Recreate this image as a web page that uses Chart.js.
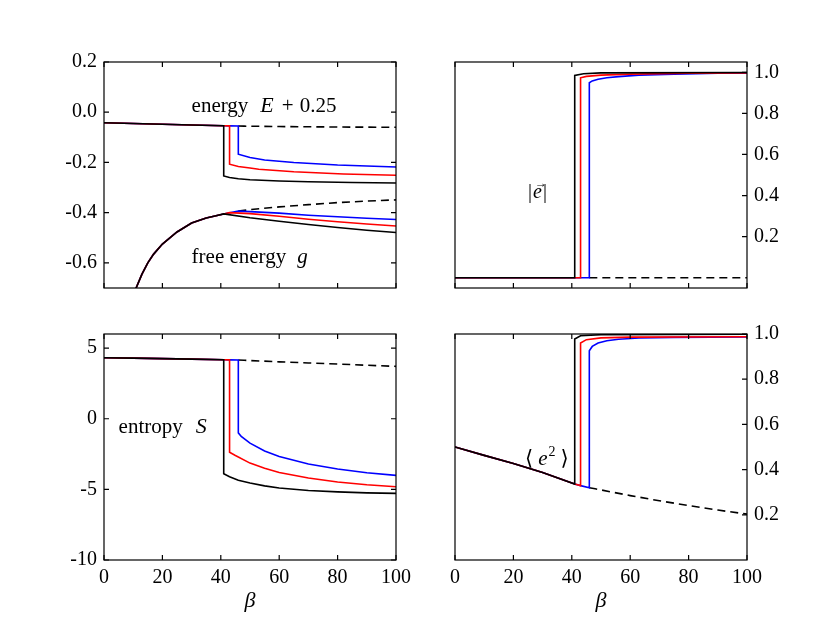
<!DOCTYPE html>
<html>
<head>
<meta charset="utf-8">
<script src="https://cdn.jsdelivr.net/npm/chart.js@4.4.0/dist/chart.umd.min.js"></script>
<style>
body{margin:0;background:#fff;}
#wrap{position:relative;width:830px;height:623px;background:#fff;}
#wrap canvas{position:absolute;left:0;top:0;}
</style>
</head>
<body>
<div id="wrap">
<canvas id="c1" width="830" height="623"></canvas>
<canvas id="c2" width="830" height="623"></canvas>
<canvas id="c3" width="830" height="623"></canvas>
<canvas id="c4" width="830" height="623"></canvas>
</div>
<script>
// beta where each coloured curve jumps to the ordered branch
var jumpBlack = 41, jumpRed = 43, jumpBlue = 46;
var betaTicks = [0, 20, 40, 60, 80, 100];

// --- energy E+0.25 ---
var enDisB = [0, 10, 20, 30, 41, 43, 46, 48, 60, 70, 80, 90, 100];
var enDis  = [-0.042, -0.045, -0.048, -0.051, -0.054, -0.0545, -0.055, -0.0555, -0.057, -0.058, -0.059, -0.0595, -0.060];
var enBlackB = [41, 43, 46, 50, 60, 70, 85, 100];
var enBlack  = [-0.254, -0.260, -0.265, -0.269, -0.274, -0.277, -0.280, -0.282];
var enRedB = [43, 46, 50, 53, 65, 82, 100];
var enRed  = [-0.207, -0.216, -0.222, -0.227, -0.237, -0.246, -0.251];
var enBlueB = [46, 50, 55, 65, 80, 100];
var enBlue  = [-0.167, -0.180, -0.190, -0.200, -0.210, -0.218];

// --- free energy g ---
var gDisB = [9, 11, 13, 15, 17, 20, 25, 30, 35, 38, 41, 43, 46, 50, 60, 70, 80, 90, 100];
var gDis  = [-0.79, -0.70, -0.645, -0.60, -0.565, -0.525, -0.477, -0.441, -0.421, -0.413, -0.405, -0.400, -0.394, -0.388, -0.377, -0.368, -0.360, -0.354, -0.349];
var gBlackB = [41, 50, 60, 70, 80, 90, 100];
var gBlack  = [-0.405, -0.420, -0.434, -0.447, -0.459, -0.470, -0.479];
var gRedB = [43, 50, 60, 70, 80, 90, 100];
var gRed  = [-0.400, -0.404, -0.414, -0.426, -0.436, -0.445, -0.453];
var gBlueB = [46, 50, 60, 70, 80, 90, 100];
var gBlue  = [-0.394, -0.396, -0.402, -0.410, -0.416, -0.422, -0.427];

// --- |e| ---
var magDisB = [0, 41, 43, 46, 100];
var magDis  = [0, 0, 0, 0, 0];
var magBlackB = [41, 44, 50, 100];
var magBlack  = [0.985, 0.993, 0.997, 0.999];
var magRedB = [43, 45, 50, 60, 80, 100];
var magRed  = [0.973, 0.980, 0.986, 0.991, 0.995, 0.997];
var magBlueB = [46, 47, 49, 52, 56, 63, 75, 90, 100];
var magBlue  = [0.949, 0.958, 0.966, 0.973, 0.979, 0.986, 0.991, 0.995, 0.996];

// --- entropy S ---
var sDisB = [0, 10, 20, 30, 41, 43, 46, 48, 60, 70, 80, 90, 100];
var sDis  = [4.32, 4.29, 4.26, 4.22, 4.18, 4.17, 4.16, 4.14, 4.03, 3.95, 3.87, 3.79, 3.71];
var sBlackB = [41, 43, 46, 50, 55, 60, 70, 80, 90, 100];
var sBlack  = [-3.89, -4.10, -4.35, -4.55, -4.75, -4.90, -5.08, -5.18, -5.25, -5.28];
var sRedB = [43, 45, 50, 55, 60, 70, 80, 90, 100];
var sRed  = [-2.37, -2.60, -3.14, -3.50, -3.80, -4.20, -4.48, -4.67, -4.81];
var sBlueB = [46, 47, 50, 55, 60, 70, 80, 90, 100];
var sBlue  = [-1.00, -1.25, -1.73, -2.28, -2.67, -3.21, -3.56, -3.82, -4.01];

// --- <e^2> ---
var e2DisB = [0, 10, 20, 30, 35, 41, 43, 46, 48, 60, 70, 80, 90, 100];
var e2Dis  = [0.500, 0.463, 0.427, 0.387, 0.364, 0.336, 0.329, 0.320, 0.315, 0.285, 0.262, 0.241, 0.221, 0.203];
var e2BlackB = [41, 43, 50, 100];
var e2Black  = [0.978, 0.992, 0.997, 0.999];
var e2RedB = [43, 45, 50, 60, 100];
var e2Red  = [0.960, 0.975, 0.983, 0.986, 0.988];
var e2BlueB = [46, 47, 49, 52, 56, 63, 75, 100];
var e2Blue  = [0.926, 0.945, 0.960, 0.970, 0.977, 0.982, 0.985, 0.987];

var FONT = '"Liberation Serif", "DejaVu Serif", serif';
var W = 830, H = 623;

function pts(xs, ys, from, to){
    var out = [];
    for (var i = 0; i < xs.length; i++){
        if (xs[i] >= from && xs[i] <= to) out.push({x: xs[i], y: ys[i]});
    }
    return out;
}
// disordered part up to the jump, then the ordered branch
function curve(disB, dis, jump, ordB, ord){
    return pts(disB, dis, -1, jump).concat(pts(ordB, ord, -1, 1000));
}
function line(data, color, dashed){
    return {data: data, borderColor: color, borderWidth: 1.6, pointRadius: 0,
            fill: false, tension: 0, borderDash: dashed ? [8, 5] : []};
}

var framePlugin = {
    id: 'frame',
    afterDatasetsDraw: function(chart, args, o){
        var ctx = chart.ctx, a = chart.chartArea;
        var xs = chart.scales.x, ys = chart.scales.y;
        ctx.save();
        ctx.strokeStyle = '#000';
        ctx.lineWidth = 1.2;
        ctx.strokeRect(a.left, a.top, a.right - a.left, a.bottom - a.top);
        ctx.beginPath();
        betaTicks.forEach(function(v){
            var p = xs.getPixelForValue(v);
            ctx.moveTo(p, a.bottom); ctx.lineTo(p, a.bottom - 5);
            ctx.moveTo(p, a.top); ctx.lineTo(p, a.top + 5);
        });
        ys.ticks.forEach(function(t){
            var p = ys.getPixelForValue(t.value);
            if (o.ySides.indexOf('left') >= 0){ ctx.moveTo(a.left, p); ctx.lineTo(a.left + 5, p); }
            if (o.ySides.indexOf('right') >= 0){ ctx.moveTo(a.right, p); ctx.lineTo(a.right - 5, p); }
        });
        ctx.stroke();
        ctx.restore();
    }
};

var notesPlugin = {
    id: 'notes',
    afterDatasetsDraw: function(chart, args, o){
        var ctx = chart.ctx;
        ctx.save();
        ctx.fillStyle = '#000';
        ctx.textBaseline = 'alphabetic';
        (o.items || []).forEach(function(n){
            var x = chart.scales.x.getPixelForValue(n.x);
            var y = chart.scales.y.getPixelForValue(n.y);
            var lastX = x;
            n.runs.forEach(function(r){
                ctx.font = (r.it ? 'italic ' : '') + (r.size || 21) + 'px ' + FONT;
                if (r.over){
                    // accent drawn over the previous run, no advance
                    ctx.fillText(r.t, lastX + (r.dx || 0), y + (r.dy || 0));
                    return;
                }
                x += r.pre || 0;
                lastX = x;
                ctx.fillText(r.t, x, y + (r.dy || 0));
                x += ctx.measureText(r.t).width;
            });
        });
        ctx.restore();
    }
};

function panel(id, p){
    var yW = 60, xH = p.showX ? 55 : 20;
    var padL = p.side === 'left' ? p.area.left - yW : p.area.left;
    var padR = p.side === 'right' ? W - p.area.right - yW : W - p.area.right;
    var cfg = {
        type: 'line',
        data: {datasets: p.datasets},
        options: {
            responsive: false, animation: false, events: [],
            layout: {autoPadding: false,
                     padding: {left: padL, right: padR, top: p.area.top, bottom: H - p.area.bottom - xH}},
            plugins: {legend: {display: false}, tooltip: {enabled: false},
                      frame: {ySides: p.ySides}, notes: {items: p.notes}},
            scales: {
                x: {type: 'linear', position: 'bottom', min: 0, max: 100,
                    grid: {display: false, drawTicks: false}, border: {display: false},
                    afterBuildTicks: function(s){ s.ticks = betaTicks.map(function(v){ return {value: v}; }); },
                    afterFit: function(s){ s.height = xH; },
                    ticks: {display: p.showX, autoSkip: false, maxRotation: 0, padding: 6, color: '#000',
                            font: {family: FONT, size: 20}},
                    title: {display: p.showX, text: 'β', color: '#000', padding: {top: 0, bottom: 1},
                            font: {family: FONT, size: 22, style: 'italic'}}},
                y: {type: 'linear', position: p.side, min: p.min, max: p.max,
                    grid: {display: false, drawTicks: false}, border: {display: false},
                    afterBuildTicks: function(s){ s.ticks = p.ticks.map(function(v){ return {value: v}; }); },
                    afterFit: function(s){ s.width = yW; },
                    ticks: {autoSkip: false, padding: 7, color: '#000', font: {family: FONT, size: 20},
                            callback: function(v){ return v.toFixed(p.dec); }}}
            }
        },
        plugins: [framePlugin, notesPlugin]
    };
    return new Chart(document.getElementById(id).getContext('2d'), cfg);
}

panel('c1', {
    area: {left: 104, top: 62, right: 396, bottom: 288}, side: 'left', ySides: ['left', 'right'],
    min: -0.7, max: 0.2, ticks: [0.2, 0, -0.2, -0.4, -0.6], dec: 1, showX: false,
    datasets: [
        line(curve(enDisB, enDis, jumpBlack, enBlackB, enBlack), '#000'),
        line(curve(enDisB, enDis, jumpRed, enRedB, enRed), '#ff0000'),
        line(curve(enDisB, enDis, jumpBlue, enBlueB, enBlue), '#0000ff'),
        line(pts(enDisB, enDis, jumpBlue, 100), '#000', true),
        line(curve(gDisB, gDis, jumpBlack, gBlackB, gBlack), '#000'),
        line(curve(gDisB, gDis, jumpRed, gRedB, gRed), '#ff0000'),
        line(curve(gDisB, gDis, jumpBlue, gBlueB, gBlue), '#0000ff'),
        line(pts(gDisB, gDis, jumpBlue, 100), '#000', true)
    ],
    notes: [
        {x: 30, y: 0.0, runs: [{t: 'energy'}, {t: 'E', it: 1, size: 22, pre: 12}, {t: '+', pre: 8}, {t: '0.25', pre: 6}]},
        {x: 30, y: -0.6, runs: [{t: 'free energy'}, {t: 'g', it: 1, pre: 11}]}
    ]
});

panel('c2', {
    area: {left: 455, top: 62, right: 747, bottom: 288}, side: 'right', ySides: ['right'],
    min: -0.05, max: 1.05, ticks: [0.2, 0.4, 0.6, 0.8, 1.0], dec: 1, showX: false,
    datasets: [
        line(curve(magDisB, magDis, jumpBlack, magBlackB, magBlack), '#000'),
        line(curve(magDisB, magDis, jumpRed, magRedB, magRed), '#ff0000'),
        line(curve(magDisB, magDis, jumpBlue, magBlueB, magBlue), '#0000ff'),
        line(pts(magDisB, magDis, jumpBlue, 100), '#000', true)
    ],
    notes: [
        {x: 25, y: 0.39, runs: [{t: '|', size: 20}, {t: 'e', it: 1, size: 20, pre: 1},
                                {t: '\u2192', size: 12, over: 1, dx: 2, dy: -11},
                                {t: '|', size: 20, pre: 1}]}
    ]
});

panel('c3', {
    area: {left: 104, top: 334, right: 396, bottom: 560}, side: 'left', ySides: ['left', 'right'],
    min: -10, max: 6, ticks: [5, 0, -5, -10], dec: 0, showX: true,
    datasets: [
        line(curve(sDisB, sDis, jumpBlack, sBlackB, sBlack), '#000'),
        line(curve(sDisB, sDis, jumpRed, sRedB, sRed), '#ff0000'),
        line(curve(sDisB, sDis, jumpBlue, sBlueB, sBlue), '#0000ff'),
        line(pts(sDisB, sDis, jumpBlue, 100), '#000', true)
    ],
    notes: [
        {x: 5, y: -1, runs: [{t: 'entropy'}, {t: 'S', it: 1, size: 22, pre: 13}]}
    ]
});

panel('c4', {
    area: {left: 455, top: 334, right: 747, bottom: 560}, side: 'right', ySides: ['right'],
    min: 0, max: 1, ticks: [0.2, 0.4, 0.6, 0.8, 1.0], dec: 1, showX: true,
    datasets: [
        line(curve(e2DisB, e2Dis, jumpBlack, e2BlackB, e2Black), '#000'),
        line(curve(e2DisB, e2Dis, jumpRed, e2RedB, e2Red), '#ff0000'),
        line(curve(e2DisB, e2Dis, jumpBlue, e2BlueB, e2Blue), '#0000ff'),
        line(pts(e2DisB, e2Dis, jumpBlue, 100), '#000', true)
    ],
    notes: [
        {x: 24, y: 0.42, runs: [{t: '\u27E8'}, {t: 'e', it: 1, pre: 5}, {t: '2', size: 14, dy: -9, pre: 1}, {t: '\u27E9', pre: 5}]}
    ]
});
</script>
</body>
</html>
